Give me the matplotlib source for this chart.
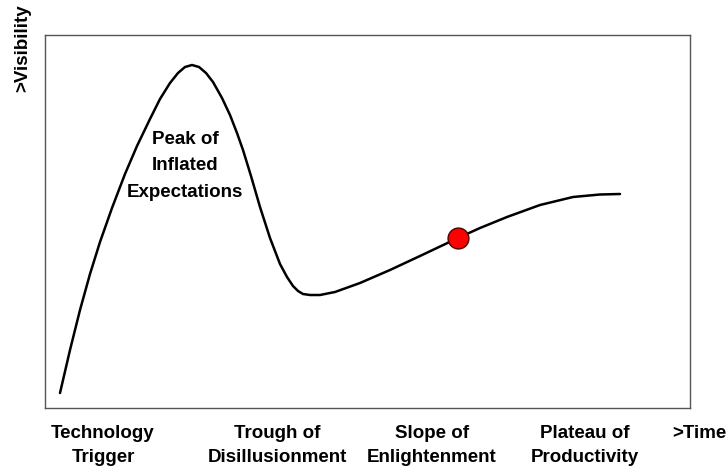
import matplotlib.pyplot as plt

plt.rcParams['font.family'] = ['Liberation Sans', 'DejaVu Sans']

# hype curve (time, visibility)
time = [15, 25, 35, 45, 55, 67, 80, 92, 105, 115, 125, 133, 140, 147, 154,
        161, 168, 177, 185, 192, 198, 206, 215, 225, 235, 242, 248, 253, 258,
        265, 275, 290, 315, 345, 375, 413, 435, 462, 495, 528, 555, 575]
visibility = [15, 58, 98, 134, 166, 200, 234, 262, 289, 309, 325, 335, 341,
              343, 341, 335, 326, 310, 293, 275, 258, 232, 201, 170, 144, 131,
              122, 117, 114, 113, 113, 116, 125, 138, 152, 170, 180, 191, 203,
              211, 213.5, 214]
dot_time = 413
dot_vis = 170

phase_labels = ['Technology\nTrigger', 'Trough of\nDisillusionment',
                'Slope of\nEnlightenment', 'Plateau of\nProductivity']
phase_x = [58, 232, 387, 540]

fig = plt.figure(figsize=(7.28, 4.70), dpi=100)
ax = fig.add_axes([45/728, 62/470, 645/728, 373/470])
ax.plot(time, visibility, color='black', lw=1.8, solid_capstyle='round',
        solid_joinstyle='round')
ax.plot(dot_time, dot_vis, 'o', ms=15, mfc='#ff0000', mec='#550000', mew=1)
ax.set_xlim(0, 645)
ax.set_ylim(0, 373)
ax.set_xticks([])
ax.set_yticks([])
for s in ax.spines.values():
    s.set_color('#555555')
    s.set_linewidth(1)

ax.text(140, 242, 'Peak of\nInflated\nExpectations', ha='center', va='center',
        fontsize=13.5, fontweight='bold', linespacing=1.7)

for lab, x in zip(phase_labels, phase_x):
    ax.text(x, -17, lab, ha='center', va='top', fontsize=13.5,
            fontweight='bold', linespacing=1.55)
ax.text(654, -17, '>Time', ha='center', va='top', fontsize=13.5,
        fontweight='bold', clip_on=False)
fig.text(23/728, 1 - 48/470, '>Visibility', rotation=90, ha='center',
         va='center', fontsize=13.5, fontweight='bold')

fig.savefig('out.png', dpi=100)
